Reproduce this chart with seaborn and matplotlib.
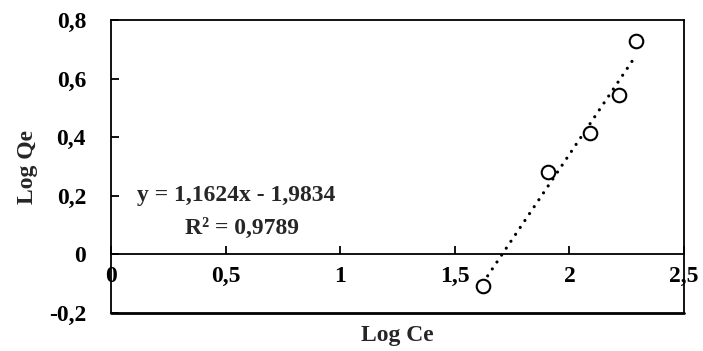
import numpy as np
import pandas as pd
import matplotlib
matplotlib.use("Agg")
import matplotlib.pyplot as plt
import seaborn as sns

# data
log_ce = [1.623, 1.907, 2.090, 2.215, 2.290]
log_qe = [-0.107, 0.282, 0.415, 0.544, 0.728]
slope = 1.1624
intercept = -1.9834
r2 = 0.9789
x_ticks = [0, 0.5, 1, 1.5, 2, 2.5]
x_tick_labels = ["0", "0,5", "1", "1,5", "2", "2,5"]
y_ticks = [-0.2, 0, 0.2, 0.4, 0.6, 0.8]
y_tick_labels = ["-0,2", "0", "0,2", "0,4", "0,6", "0,8"]

sns.set_style("ticks")
plt.rcParams["font.family"] = ["Liberation Serif", "DejaVu Serif"]
plt.rcParams["font.weight"] = "bold"

fig = plt.figure(figsize=(7.03, 3.51), dpi=100)
ax = fig.add_axes([111 / 703, 1 - 313 / 351, (684 - 111) / 703, (313 - 20) / 351])

df = pd.DataFrame({"x": log_ce, "y": log_qe})
fit_x = np.array([min(log_ce), max(log_ce)])
fit = pd.DataFrame({"x": fit_x, "y": slope * fit_x + intercept})

sns.lineplot(data=fit, x="x", y="y", ax=ax, color="black", linewidth=2.3,
             dashes=False, zorder=2)
ln = ax.lines[-1]
ln.set_linestyle((0, (0.01, 2.6)))
ln.set_dash_capstyle("round")

sns.scatterplot(data=df, x="x", y="y", ax=ax, s=95, facecolor="white",
                edgecolor="black", linewidth=1.5, zorder=3)

ax.set_xlim(0, 2.5)
ax.set_ylim(-0.2, 0.8)

ax.spines["bottom"].set_position(("data", 0))
for s in ["left", "right", "top", "bottom"]:
    ax.spines[s].set_linewidth(1.3)
    ax.spines[s].set_color("black")
ax.plot([0, 1], [0, 0], transform=ax.transAxes, color="black",
        linewidth=2.0, clip_on=False, zorder=5)

fs = 17
ax.set_xticks(x_ticks)
ax.set_xticklabels(x_tick_labels, fontsize=fs, fontweight="bold")
ax.set_yticks(y_ticks)
ax.set_yticklabels(y_tick_labels, fontsize=fs, fontweight="bold")

ax.tick_params(axis="x", direction="in", length=6, width=1.3, pad=8,
               colors="black")
ax.tick_params(axis="y", direction="in", length=6, width=1.3, pad=18,
               colors="black")

ax.set_xlabel("Log Ce", fontsize=fs, fontweight="bold", labelpad=0)
ax.xaxis.set_label_coords(0.5, -0.042)
ax.set_ylabel("Log Qe", fontsize=fs, fontweight="bold")
ax.yaxis.set_label_coords(-0.128, 0.5)

ax.text(0.545, 0.2, "y = 1,1624x - 1,9834", ha="center", va="center",
        fontsize=fs, fontweight="bold")
ax.text(0.57, 0.09, "R² = 0,9789", ha="center", va="center",
        fontsize=fs, fontweight="bold")

fig.savefig("out.png", dpi=100)
